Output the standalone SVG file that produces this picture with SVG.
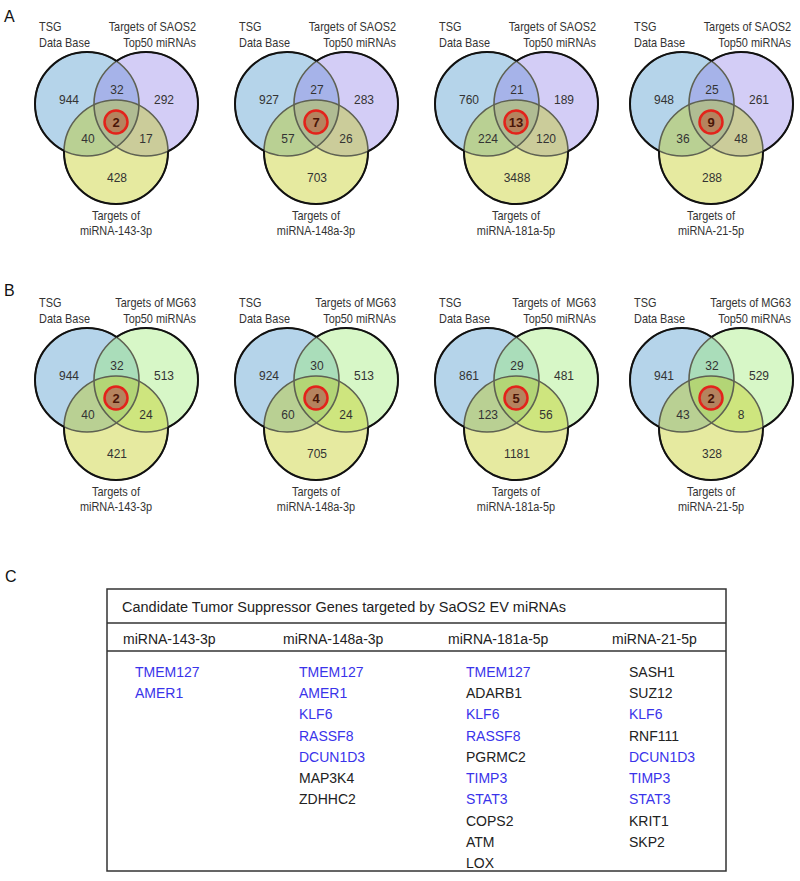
<svg xmlns="http://www.w3.org/2000/svg" xmlns:xlink="http://www.w3.org/1999/xlink" width="800" height="881" viewBox="0 0 800 881">
<style>
  text { font-family: "Liberation Sans", Arial, sans-serif; }
  .panel { font-size: 16px; fill: #111; }
  .lbl { font-size: 12px; fill: #333; }
  .num { font-size: 12px; fill: #333; text-anchor: middle; }
  .hit { font-size: 13px; font-weight: bold; fill: #4a1608; text-anchor: middle; }
  .fL { fill: #4693cb; fill-opacity: 0.4; }
  .fRa { fill: #9182e9; fill-opacity: 0.4; }
  .fRb { fill: #9beb73; fill-opacity: 0.4; }
  .fB { fill: #c1cb11; fill-opacity: 0.4; }
  .inner { fill: none; stroke: #5e6152; stroke-width: 1.6; }
  .outer { fill: none; stroke: #111; stroke-width: 2; }
  .red { fill: #b5835e; stroke: #e3231b; stroke-width: 2.5; }
  .ttl { font-size: 14px; fill: #222; }
  .gene { font-size: 14px; fill: #222; }
  .blue { fill: #3a33ea; }
  .tline { stroke: #333; stroke-width: 1.5; fill: none; }
</style>
<defs>
  <circle id="cL" cx="87" cy="104" r="52"/>
  <circle id="cR" cx="146" cy="104" r="52"/>
  <circle id="cB" cx="116" cy="152" r="52"/>
  <mask id="mL" maskUnits="userSpaceOnUse" x="0" y="0" width="220" height="240">
    <rect x="0" y="0" width="220" height="240" fill="#fff"/>
    <use xlink:href="#cR" fill="#000"/><use xlink:href="#cB" fill="#000"/>
  </mask>
  <mask id="mR" maskUnits="userSpaceOnUse" x="0" y="0" width="220" height="240">
    <rect x="0" y="0" width="220" height="240" fill="#fff"/>
    <use xlink:href="#cL" fill="#000"/><use xlink:href="#cB" fill="#000"/>
  </mask>
  <mask id="mB" maskUnits="userSpaceOnUse" x="0" y="0" width="220" height="240">
    <rect x="0" y="0" width="220" height="240" fill="#fff"/>
    <use xlink:href="#cL" fill="#000"/><use xlink:href="#cR" fill="#000"/>
  </mask>
  <g id="shapesA">
    <use xlink:href="#cL" class="fL"/><use xlink:href="#cR" class="fRa"/><use xlink:href="#cB" class="fB"/>
    <use xlink:href="#cL" class="inner"/><use xlink:href="#cR" class="inner"/><use xlink:href="#cB" class="inner"/>
    <use xlink:href="#cL" class="outer" mask="url(#mL)"/><use xlink:href="#cR" class="outer" mask="url(#mR)"/><use xlink:href="#cB" class="outer" mask="url(#mB)"/>
    <circle class="red" cx="116" cy="122" r="11.5"/>
  </g>
  <g id="shapesB">
    <use xlink:href="#cL" class="fL"/><use xlink:href="#cR" class="fRb"/><use xlink:href="#cB" class="fB"/>
    <use xlink:href="#cL" class="inner"/><use xlink:href="#cR" class="inner"/><use xlink:href="#cB" class="inner"/>
    <use xlink:href="#cL" class="outer" mask="url(#mL)"/><use xlink:href="#cR" class="outer" mask="url(#mR)"/><use xlink:href="#cB" class="outer" mask="url(#mB)"/>
    <circle class="red" cx="116" cy="122" r="11.5"/>
  </g>
</defs>

<text class="panel" x="4" y="22">A</text>
<text class="panel" x="4" y="296">B</text>
<text class="panel" x="5" y="582">C</text>

<!-- Row A -->
<g id="venn-A1">
  <use xlink:href="#shapesA"/>
  <text class="lbl" transform="translate(39 31) scale(0.91 1)">TSG</text>
  <text class="lbl" transform="translate(39 47) scale(0.91 1)">Data Base</text>
  <text class="lbl" text-anchor="end" transform="translate(196 31) scale(0.91 1)">Targets of SAOS2</text>
  <text class="lbl" text-anchor="end" transform="translate(196 47) scale(0.91 1)">Top50 miRNAs</text>
  <text class="num" x="69" y="104">944</text><text class="num" x="117" y="94">32</text><text class="num" x="164" y="104">292</text>
  <text class="hit" x="116" y="127">2</text>
  <text class="num" x="88" y="143">40</text><text class="num" x="146" y="143">17</text><text class="num" x="117" y="182">428</text>
  <text class="lbl" text-anchor="middle" transform="translate(116 220) scale(0.91 1)">Targets of</text>
  <text class="lbl" text-anchor="middle" transform="translate(116 235) scale(0.91 1)">miRNA-143-3p</text>
</g>
<g id="venn-A2" transform="translate(200 0)">
  <use xlink:href="#shapesA"/>
  <text class="lbl" transform="translate(39 31) scale(0.91 1)">TSG</text>
  <text class="lbl" transform="translate(39 47) scale(0.91 1)">Data Base</text>
  <text class="lbl" text-anchor="end" transform="translate(196 31) scale(0.91 1)">Targets of SAOS2</text>
  <text class="lbl" text-anchor="end" transform="translate(196 47) scale(0.91 1)">Top50 miRNAs</text>
  <text class="num" x="69" y="104">927</text><text class="num" x="117" y="94">27</text><text class="num" x="164" y="104">283</text>
  <text class="hit" x="116" y="127">7</text>
  <text class="num" x="88" y="143">57</text><text class="num" x="146" y="143">26</text><text class="num" x="117" y="182">703</text>
  <text class="lbl" text-anchor="middle" transform="translate(116 220) scale(0.91 1)">Targets of</text>
  <text class="lbl" text-anchor="middle" transform="translate(116 235) scale(0.91 1)">miRNA-148a-3p</text>
</g>
<g id="venn-A3" transform="translate(400 0)">
  <use xlink:href="#shapesA"/>
  <text class="lbl" transform="translate(39 31) scale(0.91 1)">TSG</text>
  <text class="lbl" transform="translate(39 47) scale(0.91 1)">Data Base</text>
  <text class="lbl" text-anchor="end" transform="translate(196 31) scale(0.91 1)">Targets of SAOS2</text>
  <text class="lbl" text-anchor="end" transform="translate(196 47) scale(0.91 1)">Top50 miRNAs</text>
  <text class="num" x="69" y="104">760</text><text class="num" x="117" y="94">21</text><text class="num" x="164" y="104">189</text>
  <text class="hit" x="116" y="127">13</text>
  <text class="num" x="88" y="143">224</text><text class="num" x="146" y="143">120</text><text class="num" x="117" y="182">3488</text>
  <text class="lbl" text-anchor="middle" transform="translate(116 220) scale(0.91 1)">Targets of</text>
  <text class="lbl" text-anchor="middle" transform="translate(116 235) scale(0.91 1)">miRNA-181a-5p</text>
</g>
<g id="venn-A4" transform="translate(595 0)">
  <use xlink:href="#shapesA"/>
  <text class="lbl" transform="translate(39 31) scale(0.91 1)">TSG</text>
  <text class="lbl" transform="translate(39 47) scale(0.91 1)">Data Base</text>
  <text class="lbl" text-anchor="end" transform="translate(196 31) scale(0.91 1)">Targets of SAOS2</text>
  <text class="lbl" text-anchor="end" transform="translate(196 47) scale(0.91 1)">Top50 miRNAs</text>
  <text class="num" x="69" y="104">948</text><text class="num" x="117" y="94">25</text><text class="num" x="164" y="104">261</text>
  <text class="hit" x="116" y="127">9</text>
  <text class="num" x="88" y="143">36</text><text class="num" x="146" y="143">48</text><text class="num" x="117" y="182">288</text>
  <text class="lbl" text-anchor="middle" transform="translate(116 220) scale(0.91 1)">Targets of</text>
  <text class="lbl" text-anchor="middle" transform="translate(116 235) scale(0.91 1)">miRNA-21-5p</text>
</g>

<!-- Row B -->
<g id="venn-B1" transform="translate(0 276)">
  <use xlink:href="#shapesB"/>
  <text class="lbl" transform="translate(39 31) scale(0.91 1)">TSG</text>
  <text class="lbl" transform="translate(39 47) scale(0.91 1)">Data Base</text>
  <text class="lbl" text-anchor="end" transform="translate(196 31) scale(0.91 1)">Targets of MG63</text>
  <text class="lbl" text-anchor="end" transform="translate(196 47) scale(0.91 1)">Top50 miRNAs</text>
  <text class="num" x="69" y="104">944</text><text class="num" x="117" y="94">32</text><text class="num" x="164" y="104">513</text>
  <text class="hit" x="116" y="127">2</text>
  <text class="num" x="88" y="143">40</text><text class="num" x="146" y="143">24</text><text class="num" x="117" y="182">421</text>
  <text class="lbl" text-anchor="middle" transform="translate(116 220) scale(0.91 1)">Targets of</text>
  <text class="lbl" text-anchor="middle" transform="translate(116 235) scale(0.91 1)">miRNA-143-3p</text>
</g>
<g id="venn-B2" transform="translate(200 276)">
  <use xlink:href="#shapesB"/>
  <text class="lbl" transform="translate(39 31) scale(0.91 1)">TSG</text>
  <text class="lbl" transform="translate(39 47) scale(0.91 1)">Data Base</text>
  <text class="lbl" text-anchor="end" transform="translate(196 31) scale(0.91 1)">Targets of MG63</text>
  <text class="lbl" text-anchor="end" transform="translate(196 47) scale(0.91 1)">Top50 miRNAs</text>
  <text class="num" x="69" y="104">924</text><text class="num" x="117" y="94">30</text><text class="num" x="164" y="104">513</text>
  <text class="hit" x="116" y="127">4</text>
  <text class="num" x="88" y="143">60</text><text class="num" x="146" y="143">24</text><text class="num" x="117" y="182">705</text>
  <text class="lbl" text-anchor="middle" transform="translate(116 220) scale(0.91 1)">Targets of</text>
  <text class="lbl" text-anchor="middle" transform="translate(116 235) scale(0.91 1)">miRNA-148a-3p</text>
</g>
<g id="venn-B3" transform="translate(400 276)">
  <use xlink:href="#shapesB"/>
  <text class="lbl" transform="translate(39 31) scale(0.91 1)">TSG</text>
  <text class="lbl" transform="translate(39 47) scale(0.91 1)">Data Base</text>
  <text class="lbl" text-anchor="end" style="white-space:pre" transform="translate(196 31) scale(0.91 1)">Targets of  MG63</text>
  <text class="lbl" text-anchor="end" transform="translate(196 47) scale(0.91 1)">Top50 miRNAs</text>
  <text class="num" x="69" y="104">861</text><text class="num" x="117" y="94">29</text><text class="num" x="164" y="104">481</text>
  <text class="hit" x="116" y="127">5</text>
  <text class="num" x="88" y="143">123</text><text class="num" x="146" y="143">56</text><text class="num" x="117" y="182">1181</text>
  <text class="lbl" text-anchor="middle" transform="translate(116 220) scale(0.91 1)">Targets of</text>
  <text class="lbl" text-anchor="middle" transform="translate(116 235) scale(0.91 1)">miRNA-181a-5p</text>
</g>
<g id="venn-B4" transform="translate(595 276)">
  <use xlink:href="#shapesB"/>
  <text class="lbl" transform="translate(39 31) scale(0.91 1)">TSG</text>
  <text class="lbl" transform="translate(39 47) scale(0.91 1)">Data Base</text>
  <text class="lbl" text-anchor="end" transform="translate(196 31) scale(0.91 1)">Targets of MG63</text>
  <text class="lbl" text-anchor="end" transform="translate(196 47) scale(0.91 1)">Top50 miRNAs</text>
  <text class="num" x="69" y="104">941</text><text class="num" x="117" y="94">32</text><text class="num" x="164" y="104">529</text>
  <text class="hit" x="116" y="127">2</text>
  <text class="num" x="88" y="143">43</text><text class="num" x="146" y="143">8</text><text class="num" x="117" y="182">328</text>
  <text class="lbl" text-anchor="middle" transform="translate(116 220) scale(0.91 1)">Targets of</text>
  <text class="lbl" text-anchor="middle" transform="translate(116 235) scale(0.91 1)">miRNA-21-5p</text>
</g>

<!-- Table C -->
<g id="table">
  <rect class="tline" x="107" y="589" width="619" height="282" stroke-width="2"/>
  <line class="tline" x1="107" y1="623" x2="726" y2="623"/>
  <line class="tline" x1="107" y1="651" x2="726" y2="651"/>
  <text class="ttl" x="122" y="612" textLength="444" lengthAdjust="spacingAndGlyphs">Candidate Tumor Suppressor Genes targeted by SaOS2 EV miRNAs</text>
  <text class="ttl" x="123" y="644">miRNA-143-3p</text>
  <text class="ttl" x="283" y="644">miRNA-148a-3p</text>
  <text class="ttl" x="448" y="644">miRNA-181a-5p</text>
  <text class="ttl" x="612" y="644">miRNA-21-5p</text>
</g>
<g id="col-143">
  <text class="gene blue" x="135" y="677">TMEM127</text>
  <text class="gene blue" x="135" y="698">AMER1</text>
</g>
<g id="col-148a">
  <text class="gene blue" x="299" y="677">TMEM127</text>
  <text class="gene blue" x="299" y="698">AMER1</text>
  <text class="gene blue" x="299" y="719">KLF6</text>
  <text class="gene blue" x="299" y="741">RASSF8</text>
  <text class="gene blue" x="299" y="762">DCUN1D3</text>
  <text class="gene" x="299" y="783">MAP3K4</text>
  <text class="gene" x="299" y="804">ZDHHC2</text>
</g>
<g id="col-181a">
  <text class="gene blue" x="466" y="677">TMEM127</text>
  <text class="gene" x="466" y="698">ADARB1</text>
  <text class="gene blue" x="466" y="719">KLF6</text>
  <text class="gene blue" x="466" y="741">RASSF8</text>
  <text class="gene" x="466" y="762">PGRMC2</text>
  <text class="gene blue" x="466" y="783">TIMP3</text>
  <text class="gene blue" x="466" y="804">STAT3</text>
  <text class="gene" x="466" y="826">COPS2</text>
  <text class="gene" x="466" y="847">ATM</text>
  <text class="gene" x="466" y="868">LOX</text>
</g>
<g id="col-21">
  <text class="gene" x="629" y="677">SASH1</text>
  <text class="gene" x="629" y="698">SUZ12</text>
  <text class="gene blue" x="629" y="719">KLF6</text>
  <text class="gene" x="629" y="741">RNF111</text>
  <text class="gene blue" x="629" y="762">DCUN1D3</text>
  <text class="gene blue" x="629" y="783">TIMP3</text>
  <text class="gene blue" x="629" y="804">STAT3</text>
  <text class="gene" x="629" y="826">KRIT1</text>
  <text class="gene" x="629" y="847">SKP2</text>
</g>
</svg>
